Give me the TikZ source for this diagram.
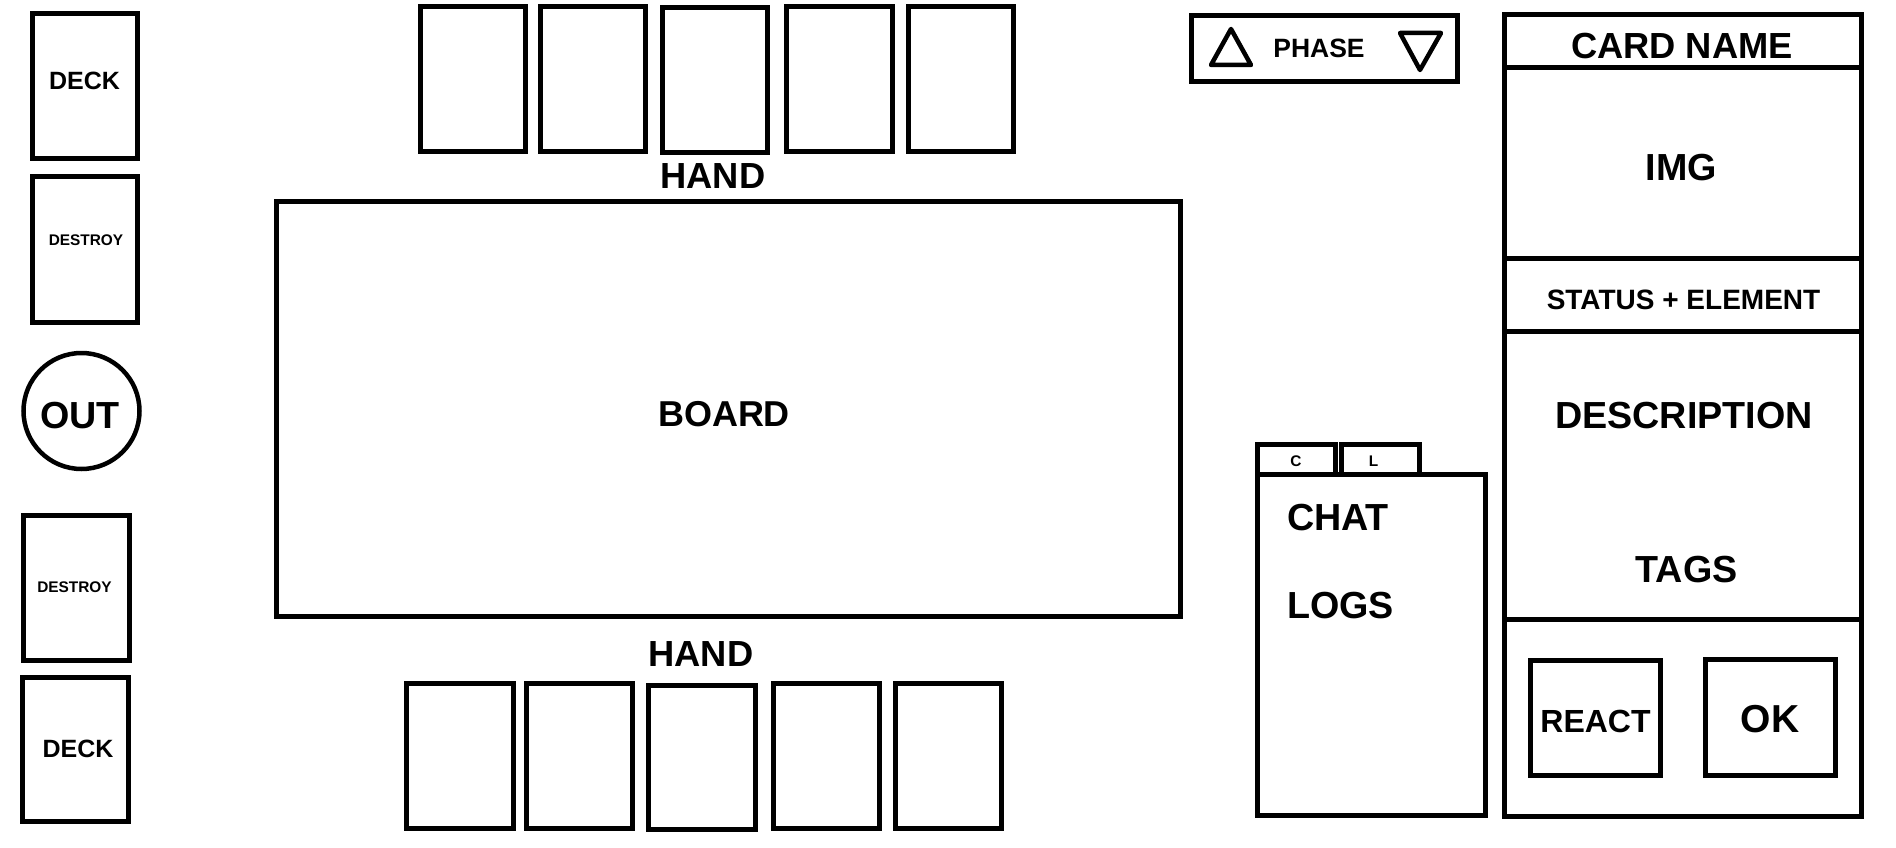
\documentclass[tikz,border=0pt]{standalone}
\usepackage{fontspec}
\setmainfont{Liberation Sans}
\begin{document}
\begin{tikzpicture}[x=1pt,y=-1pt,
  box/.style={draw, line width=5pt, rectangle, inner sep=0pt, outer sep=0pt},
  lbl/.style={inner sep=0pt, outer sep=0pt, anchor=base, font=\bfseries},
  f/.style={font=\fontsize{#1}{#1}\selectfont\bfseries}
]
\useasboundingbox (0,0) rectangle (1896,848);
% left column
\node[box, minimum width=105, minimum height=145] (decktop) at (84.5,86.5) {};
\node[box, minimum width=105, minimum height=145] (destroytop) at (84.5,249.5) {};
\node[draw, line width=4.5pt, circle, minimum size=116, inner sep=0pt] (out) at (81.5,411) {};
\node[box, minimum width=106, minimum height=145] (destroybot) at (76,587.5) {};
\node[box, minimum width=106, minimum height=144] (deckbot) at (75,749) {};
\node[lbl, f=25] (tdecktop) at (84.5,90) {DECK};
\node[lbl, f=15.4] (tdestroytop) at (86,245) {DESTROY};
\node[lbl, f=37.7] (tout) at (80,428) {OUT};
\node[lbl, f=15.4] (tdestroybot) at (74.5,592) {DESTROY};
\node[lbl, f=25] (tdeckbot) at (78,757) {DECK};
% top hand
\node[box, minimum width=105, minimum height=145] (ht1) at (472.5,79.5) {};
\node[box, minimum width=105, minimum height=145] (ht2) at (592.5,79.5) {};
\node[box, minimum width=105, minimum height=145] (ht3) at (714.5,80.5) {};
\node[box, minimum width=106, minimum height=145] (ht4) at (839,79.5) {};
\node[box, minimum width=105, minimum height=145] (ht5) at (960.5,79.5) {};
\node[lbl, f=36.3] (thandtop) at (713,189) {HAND};
% board
\node[box, minimum width=904, minimum height=415] (board) at (728,408.5) {};
\node[lbl, f=36] (tboard) at (724,426) {BOARD};
% bottom hand
\node[lbl, f=36.3] (thandbot) at (701,666) {HAND};
\node[box, minimum width=107, minimum height=145] (hb1) at (459.5,755.5) {};
\node[box, minimum width=106, minimum height=145] (hb2) at (579,755.5) {};
\node[box, minimum width=107, minimum height=144] (hb3) at (701.5,757) {};
\node[box, minimum width=106, minimum height=145] (hb4) at (826,755.5) {};
\node[box, minimum width=106, minimum height=145] (hb5) at (948,755.5) {};
% phase
\node[box, minimum width=266, minimum height=66] (phase) at (1324,49) {};
\draw[line width=4.5pt, line join=round] (1231,29) -- (1251,65) -- (1211,65) -- cycle;
\draw[line width=4.5pt, line join=round] (1400,33) -- (1441,33) -- (1420,70) -- cycle;
\node[lbl, f=26.5] (tphase) at (1319,58) {PHASE};
% chat
\node[box, minimum width=78, minimum height=30] (tabc) at (1296,459) {};
\node[box, minimum width=78, minimum height=30] (tabl) at (1380,459) {};
\node[box, minimum width=228, minimum height=341] (chat) at (1371,644.5) {};
\node[lbl, f=15.4] (tc) at (1296,466) {C};
\node[lbl, f=15.4] (tl) at (1373.5,466) {L};
\node[lbl, f=37.7, anchor=base west] (tchat) at (1287,530) {CHAT};
\node[lbl, f=37.7, anchor=base west] (tlogs) at (1287,618) {LOGS};
% card panel
\node[box, minimum width=356.5, minimum height=801.5] (panel) at (1682.75,415.25) {};
\draw[line width=5pt] (panel.west |- 0,68) -- (panel.east |- 0,68);
\draw[line width=5pt] (panel.west |- 0,258) -- (panel.east |- 0,258);
\draw[line width=5pt] (panel.west |- 0,331) -- (panel.east |- 0,331);
\draw[line width=5pt] (panel.west |- 0,619) -- (panel.east |- 0,619);
\node[lbl, f=36.3] (tname) at (1682,59) {CARD NAME};
\node[lbl, f=37.7] (timg) at (1681.5,181) {IMG};
\node[lbl, f=28] (tstatus) at (1683.5,309) {STATUS + ELEMENT};
\node[lbl, f=37.7] (tdesc) at (1684,428) {DESCRIPTION};
\node[lbl, f=37.7] (ttags) at (1686.5,582) {TAGS};
\node[box, minimum width=130, minimum height=115] (react) at (1595,717.5) {};
\node[box, minimum width=130, minimum height=116] (ok) at (1770,717) {};
\node[lbl, f=32] (treact) at (1595.5,732) {REACT};
\node[lbl, f=39] (tok) at (1770,732) {OK};
\end{tikzpicture}
\end{document}
